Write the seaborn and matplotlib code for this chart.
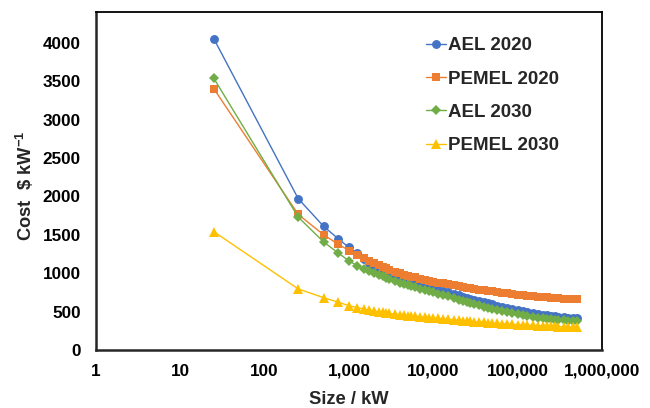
import matplotlib
matplotlib.use("Agg")
import matplotlib.pyplot as plt
import seaborn as sns
import pandas as pd
from matplotlib.ticker import FixedLocator, FixedFormatter, NullLocator

sizes = [25, 250, 500, 750, 1000, 1250, 1500, 1750, 2000, 2250, 2500, 2750,
         3000, 3500, 4000, 4500, 5000, 5500, 6000, 7000, 8000, 9000, 10000,
         11500, 13000, 15000, 17500, 20000, 22500, 25000, 27500, 30000, 35000,
         40000, 45000, 50000, 57500, 65000, 75000, 85000, 100000, 115000,
         130000, 150000, 175000, 200000, 225000, 250000, 275000, 300000,
         350000, 400000, 450000, 500000]

ael_2020 = [4050, 1970, 1610, 1445, 1335, 1260, 1190, 1130, 1080, 1045, 1015, 992,
            975, 945, 925, 908, 895, 880, 868, 848, 830, 815, 805,
            786, 770, 751, 730, 711, 694, 679, 666, 655, 636,
            620, 606, 594, 578, 564, 548, 535, 518, 505,
            494, 482, 470, 460, 452, 445, 439, 434,
            427, 421, 417, 413]

pemel_2020 = [3400, 1765, 1500, 1375, 1295, 1240, 1195, 1158, 1127, 1102, 1080, 1061,
              1045, 1018, 997, 980, 966, 954, 944, 927, 913, 901, 891,
              878, 867, 854, 840, 829, 819, 811, 804, 797, 786,
              777, 769, 762, 753, 746, 738, 731, 722, 715,
              709, 702, 695, 689, 684, 680, 676, 673,
              668, 664, 661, 658]

ael_2030 = [3535, 1730, 1407, 1260, 1160, 1098, 1052, 1022, 998, 976, 957, 940,
            925, 899, 878, 860, 845, 832, 820, 800, 783, 768, 752,
            733, 716, 697, 676, 657, 640, 626, 613, 601, 581,
            564, 550, 538, 522, 508, 493, 481, 466, 454,
            444, 433, 421, 414, 407, 401, 396, 392,
            387, 384, 382, 380]

pemel_2030 = [1540, 795, 681, 621, 577, 551, 533, 518, 507, 497, 489, 482,
              476, 466, 458, 452, 447, 442, 438, 432, 426, 421, 417,
              411, 406, 400, 393, 387, 382, 377, 373, 369, 363,
              358, 354, 350, 346, 342, 338, 335, 331, 327,
              324, 321, 317, 314, 311, 308, 306, 304,
              301, 298, 296, 293]

series_names = ["AEL 2020", "PEMEL 2020", "AEL 2030", "PEMEL 2030"]
series_values = [ael_2020, pemel_2020, ael_2030, pemel_2030]
colors = ["#4472C4", "#ED7D31", "#70AD47", "#FFC000"]
markers = ["o", "s", "D", "^"]
msizes = [6.4, 6.3, 5.4, 6.7]

x_ticks = [1, 10, 100, 1000, 10000, 100000, 1000000]
x_tick_labels = ["1", "10", "100", "1,000", "10,000", "100,000", "1,000,000"]
y_ticks = [0, 500, 1000, 1500, 2000, 2500, 3000, 3500, 4000]

rows = []
for name, vals in zip(series_names, series_values):
    for s, v in zip(sizes, vals):
        rows.append({"Size": s, "Cost": v, "Series": name})
df = pd.DataFrame(rows)

sns.set_style("white")
plt.rcParams["font.family"] = ["Liberation Sans", "DejaVu Sans"]
plt.rcParams["font.weight"] = "bold"
plt.rcParams["mathtext.fontset"] = "custom"
plt.rcParams["mathtext.rm"] = "Liberation Sans:bold"
plt.rcParams["mathtext.it"] = "Liberation Sans:bold"
plt.rcParams["mathtext.bf"] = "Liberation Sans:bold"

fig = plt.figure(figsize=(6.5, 4.08), dpi=100)
ax = fig.add_axes([96 / 650, 58 / 408, 506 / 650, 338 / 408])

for name, col, mk, ms in zip(series_names, colors, markers, msizes):
    sub = df[df["Series"] == name]
    sns.lineplot(data=sub, x="Size", y="Cost", color=col, marker=mk,
                 markersize=ms, markeredgewidth=0, linewidth=1.0,
                 estimator=None, sort=False, ax=ax, label=name)

ax.set_xscale("log")
ax.set_xlim(1, 1000000)
ax.set_ylim(0, 4400)
ax.xaxis.set_major_locator(FixedLocator(x_ticks))
ax.xaxis.set_major_formatter(FixedFormatter(x_tick_labels))
ax.xaxis.set_minor_locator(NullLocator())
ax.set_yticks(y_ticks)
ax.set_yticklabels([str(v) for v in y_ticks])

for lab in ax.get_xticklabels() + ax.get_yticklabels():
    lab.set_fontweight("bold")
    lab.set_fontsize(12.3)

ax.tick_params(axis="both", which="major", direction="out", length=4,
               width=1.5, color="#262626", labelcolor="black")
ax.tick_params(axis="y", pad=7)
ax.tick_params(axis="x", pad=6)

for side in ["left", "bottom"]:
    ax.spines[side].set_linewidth(1.8)
    ax.spines[side].set_color("#262626")
for side in ["top", "right"]:
    ax.spines[side].set_linewidth(1.3)
    ax.spines[side].set_color("black")
ax.grid(False)

ax.set_xlabel("Size / kW", fontsize=13.2, fontweight="bold", labelpad=9)
ax.set_ylabel(r"Cost  \$ kW$^{-1}$", fontsize=13.2, fontweight="bold")
ax.yaxis.set_label_coords(-0.118, 0.485)

leg = ax.legend(loc="upper left", bbox_to_anchor=(0.652, 0.925), frameon=False,
                prop={"weight": "bold", "size": 13.5}, handlelength=1.05,
                handletextpad=0.12, labelspacing=0.86, borderaxespad=0, borderpad=0)

fig.savefig("out.png", dpi=100)
